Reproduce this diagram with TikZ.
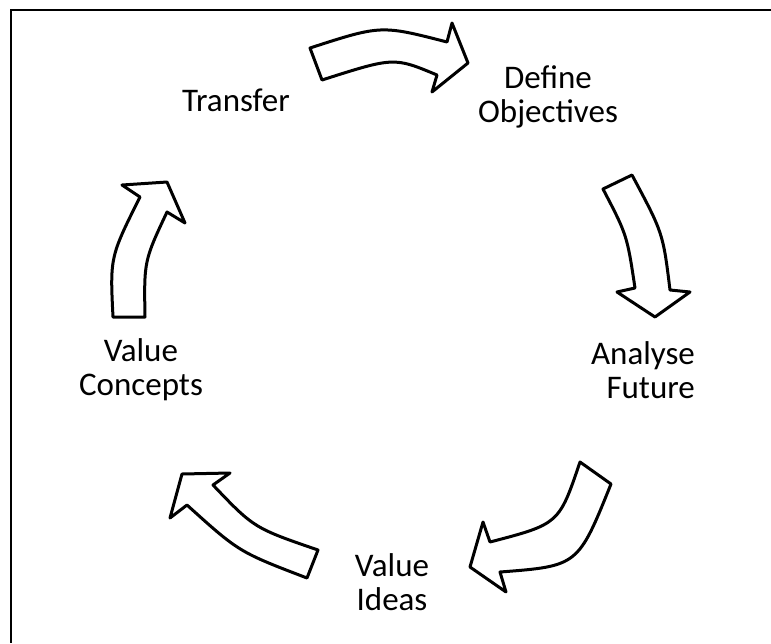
\documentclass[tikz,border=0pt]{standalone}
\usepackage{fontspec}
\setmainfont{Carlito}

\tikzset{
  step label/.style={font=\fontsize{16.5}{17}\selectfont, align=center, inner sep=0pt},
  block arrow/.style={draw=black, fill=white, line width=1.5pt, line join=round}
}

\begin{document}
\begin{tikzpicture}[x=0.5pt, y=-0.5pt]
\useasboundingbox (0,0) rectangle (771,643);
\draw[line width=1.2pt] (771,10) -- (11,10) -- (11,643);

\node[step label] (transfer) at (236,100) {Transfer};
\node[step label] (define) at (548,97) {Define\\Objectives};
\node[step label, align=right] (analyse) at (643,370) {Analyse\\Future};
\node[step label] (ideas) at (392,582) {Value\\Ideas};
\node[step label] (concepts) at (141,370) {Value\\Concepts};

\draw[block arrow] (310,48) .. controls (381,25) .. (447,42) -- (452,23) -- (468,63)
  -- (432,92) -- (437,75) .. controls (394,57) .. (322,80) -- cycle;
\draw[block arrow] (632,175) .. controls (663,233) .. (670,290) -- (690,292) -- (655,317)
  -- (617,292) -- (635,288) .. controls (627,235) .. (603,189) -- cycle;
\draw[block arrow] (580,462) .. controls (559,524) .. (490,542) -- (483,522) -- (470,567)
  -- (506,592) -- (500,572) .. controls (578,566) .. (611,484) -- cycle;
\draw[block arrow] (318,550) .. controls (254,528) .. (213,485) -- (230,473) -- (182,474)
  -- (170,518) -- (187,505) .. controls (239,552) .. (307,578) -- cycle;
\draw[block arrow] (145,317) .. controls (144,261) .. (167,212) -- (185,223) -- (167,182)
  -- (122,185) -- (140,197) .. controls (110,257) .. (113,317) -- cycle;
\end{tikzpicture}
\end{document}
